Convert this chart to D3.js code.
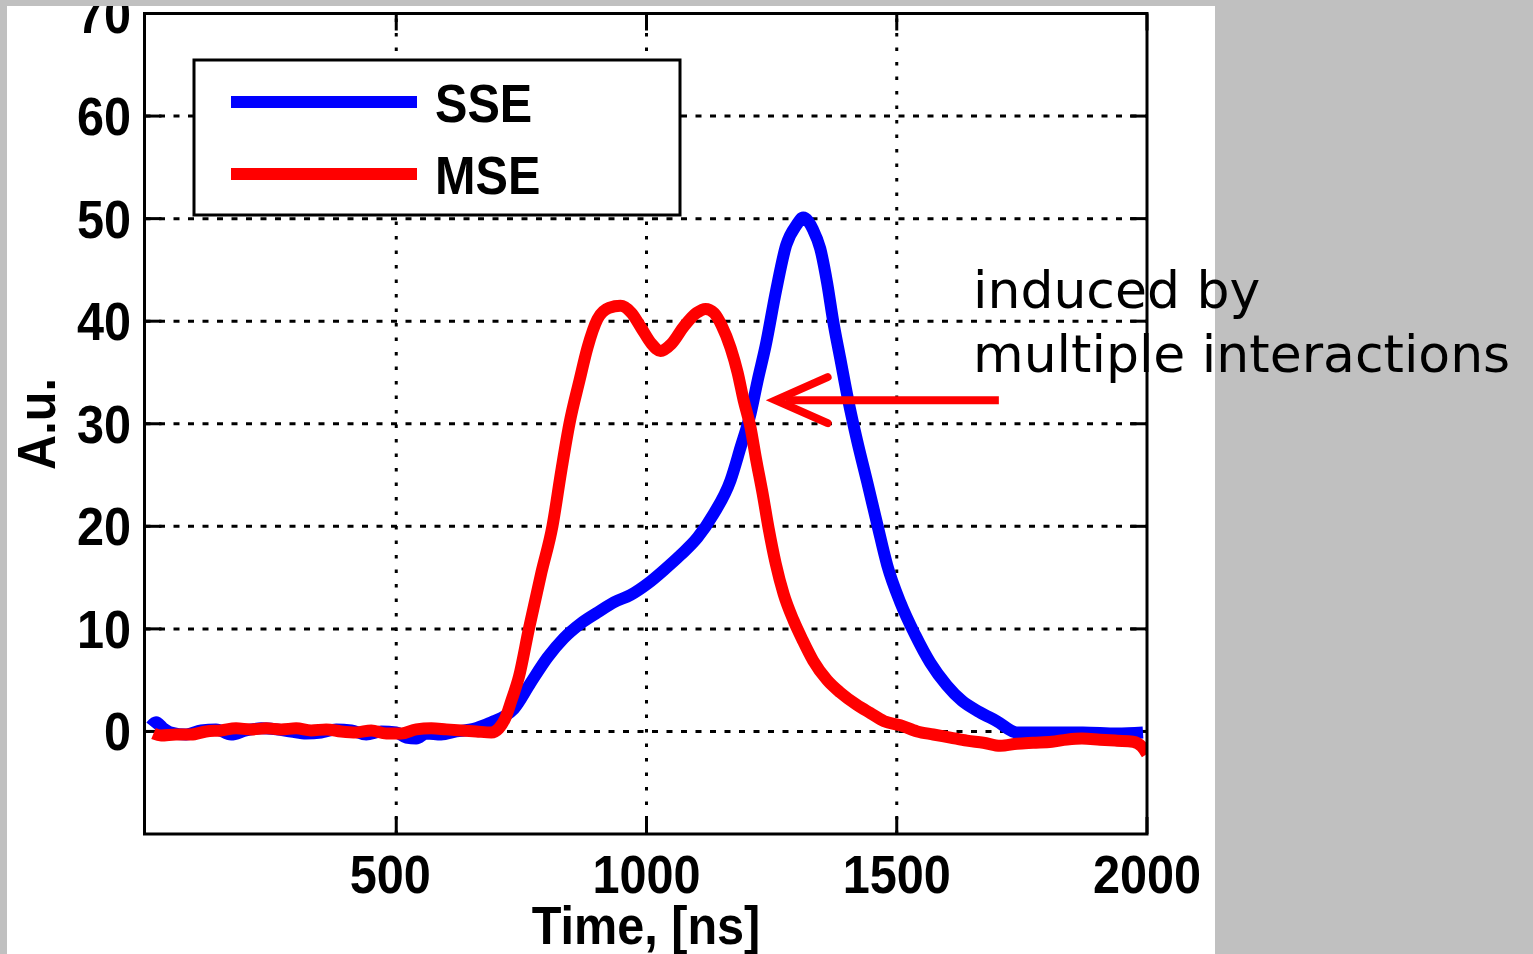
<!DOCTYPE html>
<html>
<head>
<meta charset="utf-8">
<script src="https://cdn.jsdelivr.net/npm/d3@7"></script>
<style>
  html, body { margin: 0; padding: 0; background: #c0c0c0; overflow: hidden; }
  svg { display: block; }
</style>
</head>
<body>
<svg id="chart" width="1533" height="954"></svg>
<script>
// data: [time ns, value]
const sseData = [
  [10,0.5],[20,0.9],[35,0.3],[50,-0.1],[80,-0.3],[110,0.1],[140,0.2],[170,-0.3],[200,0.1],
  [230,0.3],[260,0.2],[290,0.0],[320,-0.2],[350,-0.1],[380,0.2],[410,0.1],[440,-0.3],[470,0.0],
  [500,-0.1],[520,-0.6],[540,-0.7],[560,-0.2],[590,-0.3],[620,0.0],[650,0.2],[675,0.6],[690,0.9],
  [710,1.3],[735,2.2],[768,4.7],[802,7.2],[835,9.1],[868,10.5],[902,11.6],[935,12.6],[968,13.3],
  [1002,14.4],[1034,15.7],[1068,17.2],[1102,18.9],[1134,21.2],[1168,24.5],[1188,27.7],[1208,31.0],
  [1222,34.2],[1238,37.6],[1259,43.0],[1279,47.4],[1300,49.4],[1313,50.1],[1333,48.9],[1347,47.1],
  [1361,43.7],[1373,40.0],[1387,36.4],[1403,32.3],[1421,28.3],[1441,24.3],[1461,20.2],[1481,16.2],
  [1507,12.6],[1537,9.4],[1567,6.7],[1600,4.5],[1630,3.0],[1665,1.9],[1700,1.0],[1740,-0.1],
  [1806,-0.1],[1872,-0.1],[1940,-0.2],[1992,-0.1]
];

const mseData = [
  [15,-0.2],[30,-0.4],[60,-0.3],[90,-0.3],[120,0.0],[150,0.1],[180,0.3],[210,0.2],[240,0.3],
  [270,0.2],[300,0.3],[330,0.1],[360,0.2],[390,0.0],[420,-0.1],[450,0.1],[480,-0.2],[510,-0.2],
  [540,0.2],[570,0.3],[600,0.2],[630,0.1],[660,0.0],[690,-0.1],[705,0.3],[718,1.3],[730,3.0],
  [745,5.3],[765,10.0],[790,15.5],[812,20.0],[830,25.5],[846,30.0],[866,34.2],[882,37.4],[902,40.2],
  [925,41.3],[948,41.5],[970,40.8],[990,39.3],[1010,37.8],[1028,37.1],[1050,37.8],[1075,39.5],
  [1100,40.8],[1118,41.2],[1135,40.8],[1150,39.6],[1168,37.4],[1182,35.0],[1194,32.3],[1208,29.6],
  [1218,26.8],[1232,23.2],[1244,19.8],[1258,16.4],[1274,13.4],[1294,10.8],[1313,8.8],[1333,6.9],
  [1361,5.0],[1387,3.8],[1420,2.6],[1447,1.8],[1475,1.0],[1507,0.6],[1541,0.0],[1573,-0.3],
  [1607,-0.6],[1640,-0.9],[1673,-1.1],[1707,-1.4],[1740,-1.2],[1772,-1.1],[1810,-1.0],[1840,-0.8],
  [1870,-0.7],[1906,-0.8],[1940,-0.9],[1972,-1.0],[1990,-1.5],[2000,-2.2]
];

const xTicks = [500, 1000, 1500, 2000];
const yTicks = [0, 10, 20, 30, 40, 50, 60, 70];
const seriesNames = ["SSE", "MSE"];
const seriesColors = ["#0000ff", "#ff0000"];
const xLabel = "Time, [ns]";
const yLabel = "A.u.";
const noteLines = ["induced by", "multiple interactions"];
// arrow tail and tip, in data units
const arrowTail = [1704, 32.3];
const arrowTip = [1258, 32.3];

const svg = d3.select("#chart");
const plot = { left: 144.5, right: 1147, top: 13.5, bottom: 834 };

const x = d3.scaleLinear().domain([-3, 2000]).range([plot.left, plot.right]);
const y = d3.scaleLinear().domain([-10, 70]).range([plot.bottom, plot.top]);

const boldFont = "'Liberation Sans', Arial, sans-serif";

// bold label helper, slightly narrowed like the original
const boldText = (g, tx, ty, str, anchor, rotate) => {
  g.append("text")
    .attr("transform", `translate(${tx},${ty})${rotate ? ` rotate(${rotate})` : ""} scale(0.9,1)`)
    .attr("text-anchor", anchor)
    .attr("font-family", boldFont)
    .attr("font-weight", "bold")
    .attr("font-size", 54)
    .attr("fill", "#000")
    .text(str);
};

// white figure area
svg.append("rect")
  .attr("x", 7).attr("y", 0)
  .attr("width", 1208).attr("height", 954)
  .attr("fill", "#fff");

svg.append("defs").append("clipPath").attr("id", "clip")
  .append("rect")
  .attr("x", plot.left).attr("y", plot.top)
  .attr("width", plot.right - plot.left).attr("height", plot.bottom - plot.top);

// grid
const grid = svg.append("g").attr("stroke", "#000").attr("stroke-width", 3);
grid.selectAll(".hgrid")
  .data(yTicks.filter((d) => d < 70))
  .enter()
  .append("line")
  .attr("x1", plot.left).attr("x2", plot.right)
  .attr("y1", (d) => y(d)).attr("y2", (d) => y(d))
  .attr("stroke-dasharray", "6,8.5");
grid.selectAll(".vgrid")
  .data(xTicks.filter((d) => d < 2000))
  .enter()
  .append("line")
  .attr("y1", plot.bottom).attr("y2", plot.top)
  .attr("x1", (d) => x(d)).attr("x2", (d) => x(d))
  .attr("stroke-dasharray", "3.5,11");

// ticks on all four sides
const tickLen = 17;
const ticks = svg.append("g").attr("stroke", "#000").attr("stroke-width", 3);
yTicks.forEach((d) => {
  ticks.append("line").attr("x1", plot.left).attr("x2", plot.left + tickLen).attr("y1", y(d)).attr("y2", y(d));
  ticks.append("line").attr("x1", plot.right).attr("x2", plot.right - tickLen).attr("y1", y(d)).attr("y2", y(d));
});
xTicks.forEach((d) => {
  ticks.append("line").attr("y1", plot.bottom).attr("y2", plot.bottom - tickLen).attr("x1", x(d)).attr("x2", x(d));
  ticks.append("line").attr("y1", plot.top).attr("y2", plot.top + tickLen).attr("x1", x(d)).attr("x2", x(d));
});

// data lines
const line = d3.line()
  .x((d) => x(d[0]))
  .y((d) => y(d[1]))
  .curve(d3.curveMonotoneX);
const lines = svg.append("g").attr("clip-path", "url(#clip)");
[sseData, mseData].forEach((series, i) => {
  lines.append("path")
    .datum(series)
    .attr("d", line)
    .attr("fill", "none")
    .attr("stroke", seriesColors[i])
    .attr("stroke-width", 12)
    .attr("stroke-linejoin", "round");
});

// axes frame
svg.append("rect")
  .attr("x", plot.left).attr("y", plot.top)
  .attr("width", plot.right - plot.left).attr("height", plot.bottom - plot.top)
  .attr("fill", "none").attr("stroke", "#000").attr("stroke-width", 3);

// tick labels
const labels = svg.append("g");
yTicks.forEach((d) => boldText(labels, 131, y(d) + 19, d, "end"));
xTicks.forEach((d) => boldText(labels, x(d) - (d === 500 ? 6 : 0), 893, d, "middle"));

// axis titles
boldText(labels, 646, 944, xLabel, "middle");
boldText(labels, 55, 424, yLabel, "middle", -90);

// legend
const legend = svg.append("g");
legend.append("rect")
  .attr("x", 194).attr("y", 60).attr("width", 486).attr("height", 155)
  .attr("fill", "#fff").attr("stroke", "#000").attr("stroke-width", 3);
seriesNames.forEach((name, i) => {
  const ly = 102 + i * 72;
  legend.append("line")
    .attr("x1", 231).attr("x2", 417).attr("y1", ly).attr("y2", ly)
    .attr("stroke", seriesColors[i]).attr("stroke-width", 12);
  boldText(legend, 435, ly + 20, name, "start");
});

// gray frame over the top edge
svg.append("rect").attr("x", 0).attr("y", 0).attr("width", 1533).attr("height", 6).attr("fill", "#c0c0c0");

// annotation arrow
const ann = svg.append("g").attr("stroke", "#ff0000").attr("fill", "none").attr("stroke-width", 8);
const tipX = x(arrowTip[0]), tipY = y(arrowTip[1]);
ann.append("line")
  .attr("x1", x(arrowTail[0])).attr("x2", tipX + 10)
  .attr("y1", y(arrowTail[1])).attr("y2", tipY);
ann.append("path")
  .attr("d", `M${tipX + 52},${tipY - 23} L${tipX},${tipY} L${tipX + 52},${tipY + 23}`)
  .attr("stroke-linecap", "round")
  .attr("stroke-linejoin", "miter");

// annotation text
const note = svg.append("text")
  .attr("font-family", "'DejaVu Sans', sans-serif")
  .attr("font-size", 52)
  .attr("fill", "#000");
noteLines.forEach((t, i) => {
  note.append("tspan").attr("x", 973).attr("y", 308 + i * 64).text(t);
});
</script>
</body>
</html>
